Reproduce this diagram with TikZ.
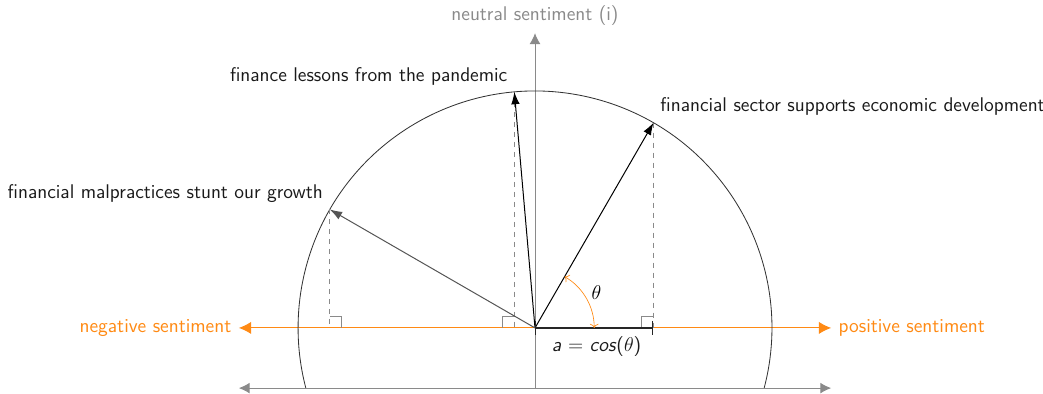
\documentclass[tikz,border=0pt]{standalone}
\usepackage{tikz}
\usetikzlibrary{arrows.meta,positioning,calc}
\usepackage{amsmath}
\definecolor{sentiment}{HTML}{FF8A14}
\definecolor{neutral}{HTML}{8A8A8A}
\definecolor{darkvec}{HTML}{555555}
\definecolor{labeltext}{HTML}{1A1A1A}

\begin{document}
\begin{tikzpicture}[font=\sffamily\fontsize{11.9}{14}\selectfont,
  axisline/.style={neutral,semithick,{Latex[length=2.3mm,width=2.3mm]}-{Latex[length=2.3mm,width=2.3mm]}},
  sentline/.style={sentiment,semithick,{Latex[length=2.6mm,width=2.6mm]}-{Latex[length=2.6mm,width=2.6mm]}},
  vecline/.style={semithick,-{Latex[length=2.6mm,width=1.8mm]}},
  projline/.style={neutral,dashed,thin},
  rightmark/.style={neutral,thin},
  veclabel/.style={labeltext,inner sep=4pt}]
  \useasboundingbox (-11.29,-1.39) rectangle (10.72,6.92);

  % Points
  \coordinate (O) at (0,0);
  \coordinate (sec) at (60:5);
  \coordinate (les) at (95:5);
  \coordinate (mal) at (150:5);
  \coordinate (secfoot) at (sec |- O);
  \coordinate (lesfoot) at (les |- O);
  \coordinate (malfoot) at (mal |- O);
  \coordinate (bottomL) at (-6.25,-1.27);
  \coordinate (bottomR) at (6.25,-1.27);
  \coordinate (bottomM) at (0,-1.27);
  \coordinate (topM) at (0,6.22);
  \coordinate (negtip) at (-6.25,0);
  \coordinate (postip) at (6.25,0);

  % Axes
  \draw[axisline] (bottomL) -- (bottomR);
  \draw[neutral,semithick,-{Latex[length=2.3mm,width=2.3mm]}] (bottomM) -- (topM);
  \node[neutral,above=1pt of topM] (neu) {neutral sentiment (i)};
  \draw[sentline] (negtip) -- (postip);
  \node[sentiment,left=1pt of negtip] (neg) {negative sentiment};
  \node[sentiment,right=1pt of postip] (pos) {positive sentiment};

  % Unit circle
  \draw[black!80,line width=0.5pt] (-14.67:5) arc (-14.67:194.67:5);

  % Projections
  \draw[projline] (sec) -- (secfoot);
  \draw[projline] (les) -- (lesfoot);
  \draw[projline] (mal) -- (malfoot);
  \draw[rightmark] ($(secfoot)+(-0.25,0)$) -- ++(0,0.25) -- ++(0.25,0);
  \draw[rightmark] ($(lesfoot)+(-0.25,0)$) -- ++(0,0.25) -- ++(0.25,0);
  \draw[rightmark] ($(malfoot)+(0,0.25)$) -- ++(0.25,0) -- ++(0,-0.25);

  % Vectors
  \draw[vecline] (O) -- (sec);
  \draw[vecline] (O) -- (les);
  \draw[vecline,darkvec] (O) -- (mal);
  \node[veclabel,anchor=south west] (secl) at (sec) {financial sector supports economic development};
  \node[veclabel,anchor=south east] (lesl) at (les) {finance lessons from the pandemic};
  \node[veclabel,anchor=south east] (mall) at (mal) {financial malpractices stunt our growth};

  % Cosine
  \draw[thick,black!85,{Bar[width=3mm]}-{Bar[width=3mm]}] (O) -- (secfoot);
  \node[labeltext,below=2pt] (cosl) at ($(O)!0.52!(secfoot)$) {\textsl{a} $=$ \textsl{cos}($\theta$)};
  \draw[sentiment,{To}-{To}] (1.25,0) arc (0:60:1.25);
  \node (theta) at (30:1.5) {$\theta$};
\end{tikzpicture}
\end{document}
